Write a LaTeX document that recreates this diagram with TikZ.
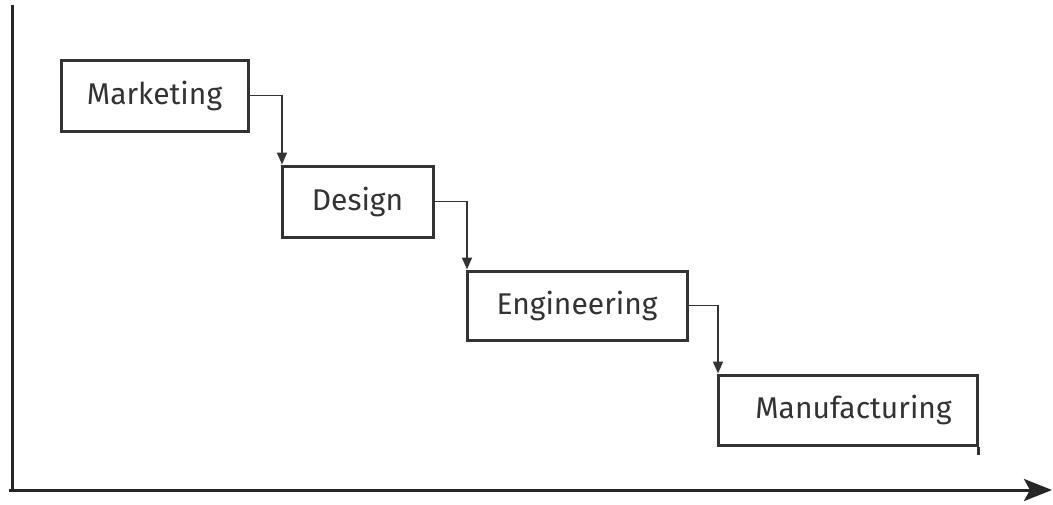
\documentclass[tikz,border=0pt]{standalone}
\usepackage{fontspec}
\setmainfont{Fira Sans}
\usetikzlibrary{arrows.meta}
\definecolor{ink}{HTML}{333333}
\begin{document}
\begin{tikzpicture}[x=1pt,y=-1pt,
  stage/.style={draw=ink,line width=3pt,fill=white,inner sep=0pt,
    font=\fontsize{30}{34}\selectfont,text=ink},
  flow/.style={draw=ink,line width=1.8pt,-{Triangle[length=12pt,width=10pt]}},
  axis/.style={draw=black!85,line width=3pt}]
  \useasboundingbox (0,0) rectangle (1053,504);

  % axes
  \coordinate (top) at (12.5,5);
  \coordinate (origin) at (12.5,490);
  \coordinate (tend) at (1052,490);
  \draw[axis] (top) -- (origin);
  \draw[axis,-{Stealth[length=28pt,width=22pt,inset=6pt]}] ([xshift=-4pt]origin) -- (tend);

  % stages
  \node[stage,minimum width=187pt,minimum height=71pt] (mkt) at (154.5,95.5) {Marketing};
  \node[stage,minimum width=151pt,minimum height=71pt] (des) at (357.5,201.5) {Design};
  \node[stage,minimum width=220pt,minimum height=69pt] (eng) at (577,305.5) {Engineering};
  \node[stage,minimum width=259pt,minimum height=70pt] (man) at (847.5,410) {\hspace*{12pt}Manufacturing};
  \draw[ink,line width=3pt] (man.south east) -- ++(0,8);

  % hand-offs
  \draw[flow] (mkt.east) -| ([xshift=1.5pt]des.north west);
  \draw[flow] (des.east) -| ([xshift=1.5pt]eng.north west);
  \draw[flow] (eng.east) -| ([xshift=1.5pt]man.north west);
\end{tikzpicture}
\end{document}
